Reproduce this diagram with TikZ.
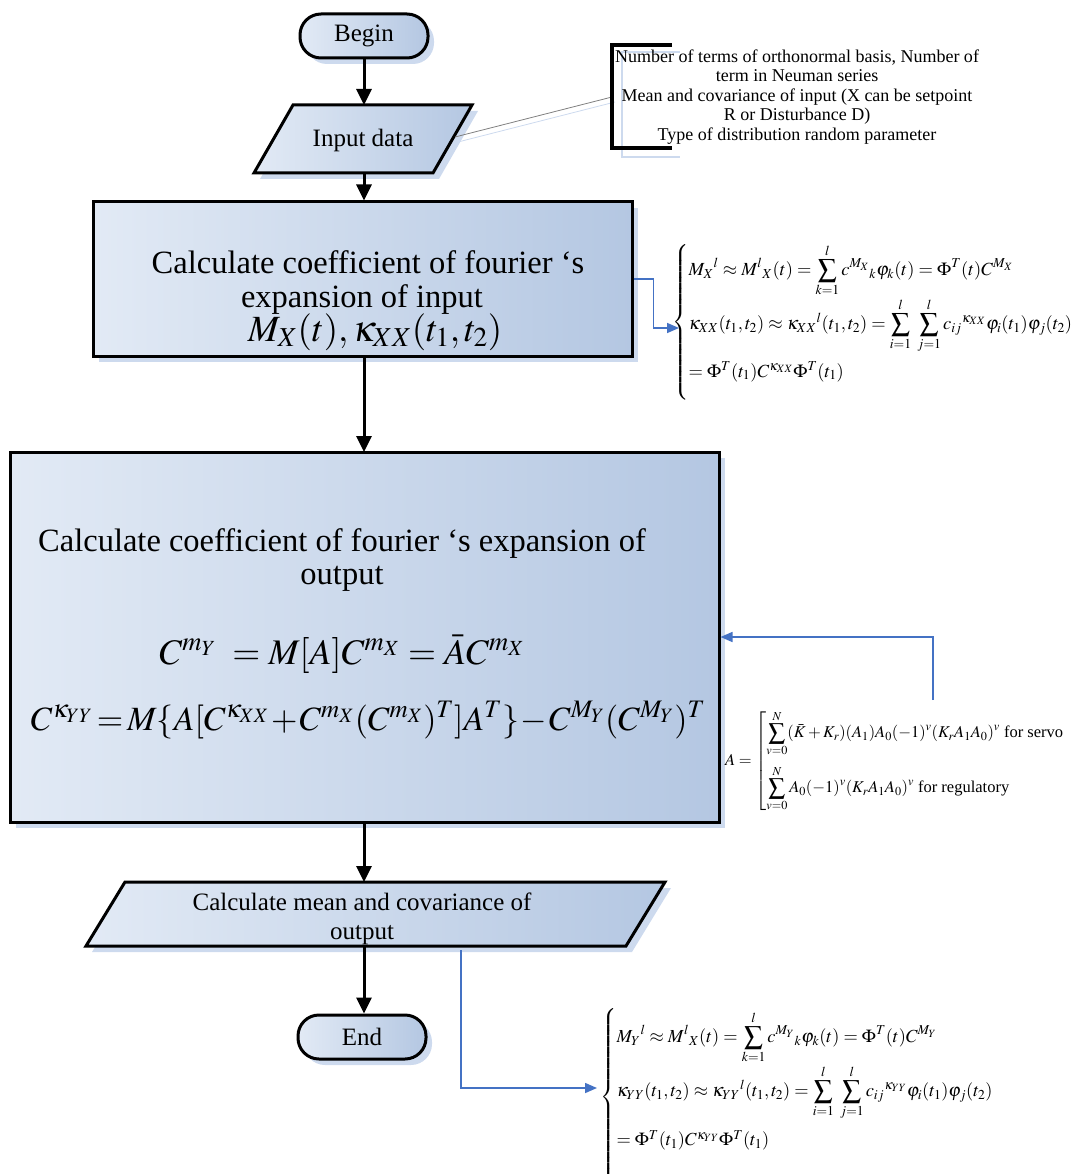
\documentclass[tikz,border=0pt]{standalone}
\usepackage{mathptmx}
\usepackage{amsmath}
\usepackage{fontspec}
\setmainfont{Liberation Serif}
\usetikzlibrary{arrows.meta,shadows}
\definecolor{boxlight}{RGB}{226,234,245}
\definecolor{boxdark}{RGB}{180,199,226}
\definecolor{shadowblue}{RGB}{205,218,238}
\definecolor{linkblue}{RGB}{68,114,196}
\tikzset{
  flow/.style={line width=3pt,-{Triangle[length=16pt,width=15pt]}},
  blueline/.style={draw=linkblue,line width=1.6pt,-{Triangle[length=12pt,width=10pt]}},
  boxfill/.style={left color=boxlight,right color=boxdark},
  shadowed/.style={drop shadow={shadow xshift=6pt,shadow yshift=-6pt,fill=shadowblue,opacity=1}},
  terminal/.style={draw,line width=3pt,rectangle,rounded corners=21pt,minimum width=128pt,minimum height=44pt,boxfill,shadowed,font=\fontsize{25}{28}\selectfont},
  procbox/.style={draw,line width=3pt,rectangle,boxfill,shadowed,inner sep=0pt},
  bigtxt/.style={font=\fontsize{32.5}{36}\selectfont,anchor=base,inner sep=0pt},
  midtxt/.style={font=\fontsize{25}{28}\selectfont,anchor=base,inner sep=0pt},
  sidemath/.style={font=\fontsize{18.5}{22}\selectfont,inner sep=0pt,anchor=west}
}
\begin{document}
\begin{tikzpicture}[x=1pt,y=-1pt]
\useasboundingbox (0,0) rectangle (1072,1174);
% Begin
\node[terminal] (begin) at (364,36) {Begin};
% Input data parallelogram
\draw[line width=3pt,boxfill,shadowed] (293,105) -- (472,105) -- (433,173) -- (254,173) -- cycle;
\node[midtxt] (input) at (363,147) {Input data};
\coordinate (inTop) at (364,105);
\coordinate (inBot) at (364,173);
\draw[flow] (begin.south) -- (inTop);
% annotation
\draw[shadowblue,line width=0.8pt] (458,142) -- (615,102);
\draw[gray,line width=0.8pt] (455,137) -- (612,97);
\draw[shadowblue,line width=2pt] (680,52) -- (622,52) -- (622,157) -- (680,157);
\draw[black,line width=4pt] (672,45) -- (612,45) -- (612,148) -- (672,148);
\node[font=\fontsize{18}{19.6}\selectfont,align=center,inner sep=0pt] (note) at (797,97)
 {Number of terms of orthonormal basis, Number of\\term in Neuman series\\Mean and covariance of input (X can be setpoint\\R or Disturbance D)\\Type of distribution random parameter};
% box 1
\node[procbox,minimum width=539pt,minimum height=154pt] (calcin) at (362.5,279) {};
\draw[flow] (inBot) -- (inBot |- calcin.north);
\node[bigtxt] (calcinA) at (368,273) {Calculate coefficient of fourier ‘s};
\node[bigtxt] (calcinB) at (362,307) {expansion of input};
\node[font=\fontsize{37}{40}\selectfont,anchor=base,inner sep=0pt] (calcinC) at (375,341) {$M_X(t),\kappa_{XX}(t_1,t_2)$};
% formula right of box 1
\node[sidemath] (fxin) at (672,322) {$\left\{\begin{array}{@{}l@{}}
\displaystyle M_X{}^{l}\approx M^{l}{}_{X}(t)=\sum_{k=1}^{l}c^{M_X}{}_{k}\varphi_k(t)=\Phi^{T}(t)C^{M_X}\\\noalign{\vskip 2pt}
\displaystyle \kappa_{XX}(t_1,t_2)\approx\kappa_{XX}{}^{l}(t_1,t_2)=\sum_{i=1}^{l}\;\sum_{j=1}^{l}c_{ij}{}^{\kappa_{XX}}\varphi_i(t_1)\varphi_j(t_2)\\\noalign{\vskip 8pt}
=\Phi^{T}(t_1)C^{\kappa_{XX}}\Phi^{T}(t_1)\\[16pt]
\end{array}\right.$};
\coordinate (fxinTip) at (679,328);
\draw[blueline] (calcin.east) -- ++(20,0) |- (fxinTip);
% box 2
\node[procbox,minimum width=709pt,minimum height=370pt] (calcout) at (364.5,637) {};
\draw[flow] (calcin.south -| 364,0) -- (364,452);
\node[bigtxt] (calcoutA) at (342,551) {Calculate coefficient of fourier ‘s expansion of};
\node[bigtxt] (calcoutB) at (342,584) {output};
\node[font=\fontsize{36}{40}\selectfont,anchor=base,inner sep=0pt] (calcoutC) at (342,664)
 {$C^{m_Y}\;=M[A]C^{m_X}=\bar{A}C^{m_X}$};
\node[font=\fontsize{34}{38}\selectfont,anchor=base,inner sep=0pt] (calcoutD) at (368,730)
 {$\medmuskip=1mu\thickmuskip=2mu C^{\kappa_{YY}}=M\{A[C^{\kappa_{XX}}+C^{m_X}(C^{m_X})^T]A^T\}-C^{M_Y}(C^{M_Y})^T$};
% A formula
\node[sidemath,font=\fontsize{16.5}{19}\selectfont] (aform) at (725,761) {$A=\left[\begin{array}{@{}l@{}}
\displaystyle\sum_{v=0}^{N}(\bar{K}+K_r)(A_1)A_0(-1)^v(K_rA_1A_0)^v\ \text{for servo}\\\noalign{\vskip 9pt}
\displaystyle\sum_{v=0}^{N}A_0(-1)^v(K_rA_1A_0)^v\ \text{for regulatory}
\end{array}\right.$};
\coordinate (aTop) at (933,700);
\draw[blueline] (aTop) |- (calcout.east);
% parallelogram 2
\draw[line width=3pt,boxfill,shadowed] (125,882) -- (665,882) -- (626,946) -- (86,946) -- cycle;
\node[midtxt] (meanA) at (362,910) {Calculate mean and covariance of};
\node[midtxt] (meanB) at (362,939) {output};
\coordinate (p2Top) at (364,882);
\coordinate (p2Bot) at (364,946);
\draw[flow] (calcout.south -| p2Top) -- (p2Top);
% End
\node[terminal] (end) at (362,1037) {End};
\draw[flow] (p2Bot) -- (p2Bot |- end.north);
% bottom formula
\node[sidemath,font=\fontsize{18.4}{22}\selectfont] (fyout) at (600,1097) {$\left\{\begin{array}{@{}l@{}}
\displaystyle M_Y{}^{l}\approx M^{l}{}_{X}(t)=\sum_{k=1}^{l}c^{M_Y}{}_{k}\varphi_k(t)=\Phi^{T}(t)C^{M_Y}\\\noalign{\vskip 2pt}
\displaystyle \kappa_{YY}(t_1,t_2)\approx\kappa_{YY}{}^{l}(t_1,t_2)=\sum_{i=1}^{l}\;\sum_{j=1}^{l}c_{ij}{}^{\kappa_{YY}}\varphi_i(t_1)\varphi_j(t_2)\\\noalign{\vskip 10pt}
=\Phi^{T}(t_1)C^{\kappa_{YY}}\Phi^{T}(t_1)\\[30pt]
\end{array}\right.$};
\coordinate (p2Out) at (461,950);
\coordinate (fyTip) at (597,1088);
\draw[blueline] (p2Out) |- (fyTip);
\end{tikzpicture}
\end{document}
